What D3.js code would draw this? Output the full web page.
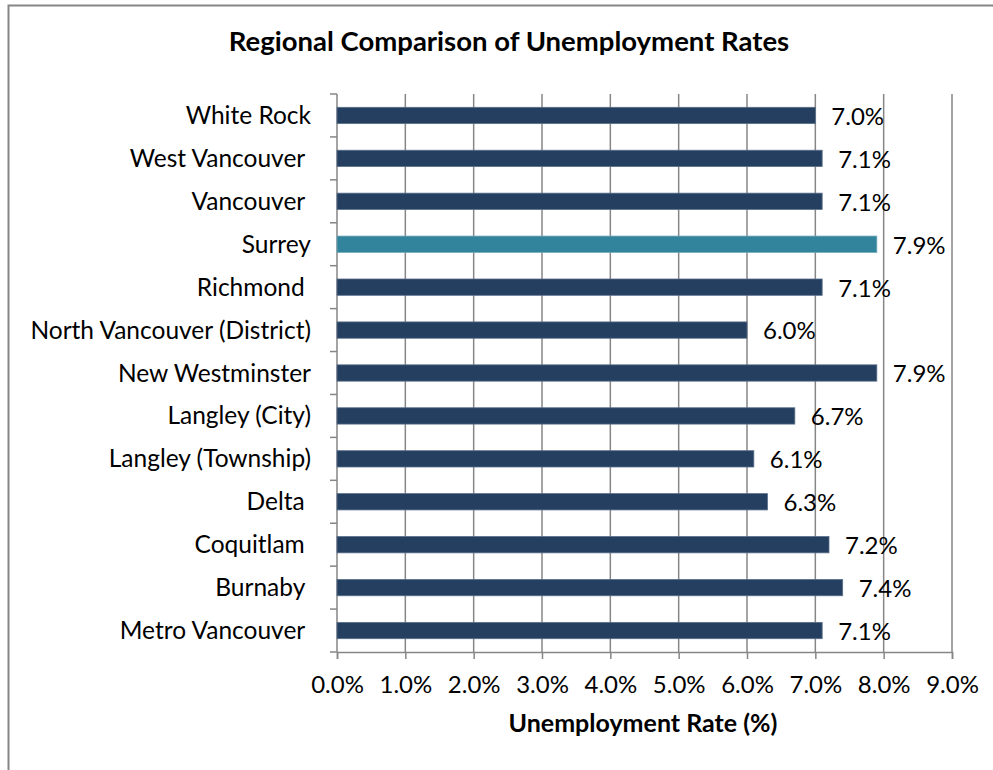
<!DOCTYPE html>
<html>
<head>
<meta charset="utf-8">
<script src="https://cdn.jsdelivr.net/npm/d3@7"></script>
<style>
  body { margin: 0; background: #fff; }
  text { font-family: Lato, "Open Sans", sans-serif; fill: #000; white-space: pre; }
</style>
</head>
<body>
<svg id="chart" width="993" height="770"></svg>
<script>
// categories top to bottom, as in the picture (trailing spaces kept)
var regions = ["White Rock", "West Vancouver ", "Vancouver ", "Surrey", "Richmond ",
  "North Vancouver (District)", "New Westminster", "Langley (City)", "Langley (Township)",
  "Delta ", "Coquitlam ", "Burnaby ", "Metro Vancouver "];
var rates = [7.0, 7.1, 7.1, 7.9, 7.1, 6.0, 7.9, 6.7, 6.1, 6.3, 7.2, 7.4, 7.1];
var highlight = "Surrey";
var ticks = [0, 1, 2, 3, 4, 5, 6, 7, 8, 9];

var svg = d3.select("#chart");
var plotL = 337, plotR = 952, plotT = 94, plotB = 652;

// outer frame (right and bottom edges fall outside the picture)
svg.append("rect")
  .attr("x", 8.5).attr("y", 5.5)
  .attr("width", 1000).attr("height", 800)
  .attr("fill", "none").attr("stroke", "#868686").attr("stroke-width", 2);

var x = d3.scaleLinear().domain([0, 9]).range([plotL, plotR]);
var y = d3.scaleBand().domain(regions).range([plotT, plotB]).paddingInner(0.62).paddingOuter(0.31);
var band = d3.scaleBand().domain(regions).range([plotT, plotB]);

// gridlines
svg.append("g")
  .selectAll("line")
  .data(ticks.slice(1))
  .enter()
  .append("line")
  .attr("x1", d => x(d)).attr("x2", d => x(d))
  .attr("y1", plotT).attr("y2", plotB)
  .attr("stroke", "#868686").attr("stroke-width", 1.5);

// bottom axis
var xAxis = svg.append("g")
  .attr("transform", "translate(0," + plotB + ")")
  .call(d3.axisBottom(x).tickValues(ticks).tickSize(7).tickPadding(17).tickFormat(d => d.toFixed(1) + "%"));
xAxis.select(".domain").attr("stroke", "#868686").attr("stroke-width", 1.5);
xAxis.selectAll(".tick line").attr("stroke", "#868686").attr("stroke-width", 1.5);
xAxis.selectAll("text").style("font-size", "24px").attr("font-family", null);

// left axis: ticks at band boundaries
var bounds = regions.map(d => band(d)).concat([plotB]);
svg.append("line")
  .attr("x1", plotL).attr("x2", plotL).attr("y1", plotT).attr("y2", plotB)
  .attr("stroke", "#868686").attr("stroke-width", 1.5);
svg.append("g")
  .selectAll("line")
  .data(bounds)
  .enter()
  .append("line")
  .attr("x1", plotL - 7).attr("x2", plotL)
  .attr("y1", d => d).attr("y2", d => d)
  .attr("stroke", "#868686").attr("stroke-width", 1.5);

// category labels
svg.append("g")
  .selectAll("text")
  .data(regions)
  .enter()
  .append("text")
  .attr("x", 311)
  .attr("y", d => band(d) + band.bandwidth() / 2)
  .attr("dy", "0.35em")
  .attr("text-anchor", "end")
  .style("font-size", "24.5px")
  .text(d => d);

// bars
svg.append("g")
  .selectAll("rect")
  .data(regions)
  .enter()
  .append("rect")
  .attr("x", plotL)
  .attr("y", d => y(d))
  .attr("width", (d, i) => x(rates[i]) - plotL)
  .attr("height", y.bandwidth())
  .attr("fill", d => d == highlight ? "#31849B" : "#243F60")
  .attr("stroke", d => d == highlight ? "#6FA8B8" : "#5A6F8A")
  .attr("stroke-width", 0.8);

// value labels
svg.append("g")
  .selectAll("text")
  .data(regions)
  .enter()
  .append("text")
  .attr("x", (d, i) => x(rates[i]) + 16)
  .attr("y", d => band(d) + band.bandwidth() / 2 + 1)
  .attr("dy", "0.35em")
  .style("font-size", "24px")
  .text((d, i) => rates[i].toFixed(1) + "%");

// titles
svg.append("text")
  .attr("x", 509).attr("y", 51)
  .attr("text-anchor", "middle")
  .style("font-size", "27.5px").style("font-weight", "bold")
  .text("Regional Comparison of Unemployment Rates");

svg.append("text")
  .attr("x", 643).attr("y", 732)
  .attr("text-anchor", "middle")
  .style("font-size", "25px").style("font-weight", "bold")
  .text("Unemployment Rate (%)");
</script>
</body>
</html>
